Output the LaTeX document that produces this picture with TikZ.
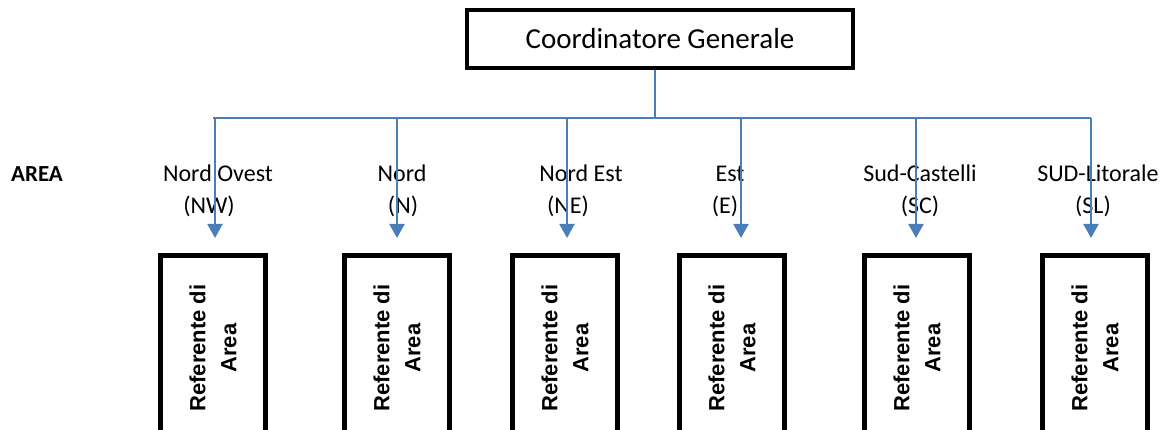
\documentclass[tikz,border=0pt]{standalone}
\usepackage{fontspec}
\setmainfont{Carlito}
\newfontfamily\boxfont{Liberation Sans}
\usetikzlibrary{arrows.meta}
\definecolor{conncol}{HTML}{4A7EBB}
\begin{document}
\begin{tikzpicture}[x=1pt,y=-1pt,
  conn/.style={draw=conncol,line width=2pt},
  arr/.style={conn,-{Triangle[width=15pt,length=14pt]}},
  topbox/.style={draw,line width=4pt,minimum width=386pt,minimum height=58pt,inner sep=0pt,
    font=\fontsize{29}{34}\selectfont},
  refbox/.style={draw,line width=5pt,rotate=90,minimum width=185pt,minimum height=105pt,
    inner sep=0pt,align=center,font=\boxfont\bfseries\fontsize{22}{31}\selectfont},
  lab/.style={anchor=base,inner sep=0pt,font=\fontsize{24}{28}\selectfont},
  areabox/.style={anchor=base,inner sep=0pt,font=\bfseries\fontsize{23}{28}\selectfont},
]
\useasboundingbox (0,0) rectangle (1163,430);
\clip (0,0) rectangle (1163,430);

% top node
\node[topbox] (coord) at (660,39) {Coordinatore Generale};

% labels
\node[areabox] (area) at (37,182) {AREA};
\node[lab] (l1a) at (218,182) {Nord Ovest};
\node[lab] (l1b) at (209,214) {(NW)};
\node[lab] (l2a) at (402,182) {Nord};
\node[lab] (l2b) at (403,214) {(N)};
\node[lab] (l3a) at (581,182) {Nord Est};
\node[lab] (l3b) at (568,214) {(NE)};
\node[lab] (l4a) at (730,182) {Est};
\node[lab] (l4b) at (725,214) {(E)};
\node[lab] (l5a) at (920,182) {Sud-Castelli};
\node[lab] (l5b) at (920,214) {(SC)};
\node[lab] (l6a) at (1098,182) {SUD-Litorale};
\node[lab] (l6b) at (1093,214) {(SL)};

% referent boxes
\node[refbox] (r1) at (213,348) {Referente di\\Area};
\node[refbox] (r2) at (397,348) {Referente di\\Area};
\node[refbox] (r3) at (565,348) {Referente di\\Area};
\node[refbox] (r4) at (732,348) {Referente di\\Area};
\node[refbox] (r5) at (917,348) {Referente di\\Area};
\node[refbox] (r6) at (1095,348) {Referente di\\Area};

% connectors
\coordinate (hub) at (655,118);
\coordinate (hl) at (213,118);
\coordinate (hr) at (1091,118);
\draw[conn] (coord.south -| hub) -- (hub);
\draw[conn] (hl) -- (hr);

\foreach \i/\x in {1/215,2/397,3/567,4/741,5/916,6/1091}{
  \coordinate (s\i) at (\x,118);
  \coordinate (t\i) at (\x,238);
  \draw[arr] (s\i) -- (t\i);
}
\end{tikzpicture}
\end{document}
